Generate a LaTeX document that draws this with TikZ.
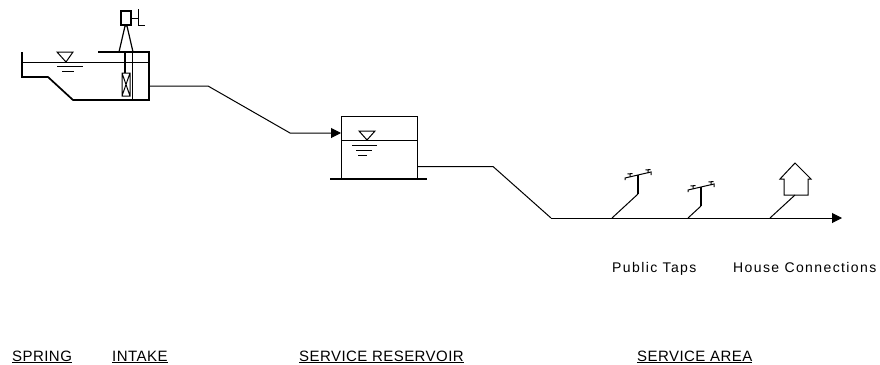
\documentclass[tikz,border=0pt]{standalone}
\usepackage{fontspec}
\setmainfont{Liberation Sans}
\newfontfamily\lowerfont[LetterSpace=10]{Liberation Sans}
\newfontfamily\capsfont[LetterSpace=3]{Liberation Sans}
\usetikzlibrary{arrows.meta}
\tikzset{
  thin line/.style={line width=1pt,line join=miter},
  thick line/.style={line width=1.7pt,line join=miter},
  pipe/.style={line width=1pt,line join=miter},
  note text/.style={anchor=base west,inner sep=0pt,font=\lowerfont\fontsize{14}{16}\selectfont},
  head text/.style={anchor=base west,inner sep=0pt,font=\capsfont\fontsize{15}{17}\selectfont},
  flow/.style={pipe,-{Triangle[length=10pt,width=10pt]}}
}
\begin{document}
\begin{tikzpicture}[x=1pt,y=-1pt]
\useasboundingbox (0,0) rectangle (880,364);
% named points
\coordinate (springOut) at (149,86);
\coordinate (pipeA) at (208,86);
\coordinate (pipeB) at (290,133);
\coordinate (resIn) at (341,133);
\coordinate (resOut) at (417,166.5);
\coordinate (pipeC) at (493,166.5);
\coordinate (mainStart) at (551,218);
\coordinate (mainEnd) at (842,218);
\coordinate (tapA) at (612,218);
\coordinate (tapB) at (688,218);
\coordinate (houseJ) at (770,218);
% spring and intake
\draw[thick line] (22,52) -- (22,77) -- (48,77) -- (73,100) -- (149,100) -- (149,52) -- (98,52);
\draw[thin line] (22,62) -- (149,62);
\draw[thin line] (132,52) -- (132,100);
\draw[thin line] (57,52) -- (73,52) -- (66,62) -- cycle;
\draw[thin line] (57,66) -- (83,66) (62,71) -- (74,71);
\draw[line width=1.3pt] (125,52) -- (125,73);
\draw[thin line] (122,73) rectangle (130,96) (122,73) -- (130,96) (130,73) -- (122,96);
\draw[line width=1.2pt] (119,52) -- (125,26) -- (127,26) -- (133,52);
\draw[line width=1.2pt] (121,11) rectangle (131,25);
\draw[thin line] (131,18) -- (138,18) (138,9) -- (138,26) (138,25) -- (145,25);
% reservoir
\draw[thin line] (341,179) -- (341,116) -- (417,116) -- (417,179);
\draw[line width=1.3pt] (330,179) -- (427,179);
\draw[thin line] (341,140) -- (417,140);
\draw[thin line] (359,131) -- (375,131) -- (367,140) -- cycle;
\draw[thin line] (352,145) -- (377,145) (356,150) -- (372,150) (358,155) -- (367,155);
% pipes
\draw[flow] (springOut) -- (pipeA) -- (pipeB) -- (resIn);
\draw[pipe] (resOut) -- (pipeC) -- (mainStart);
\draw[flow] (mainStart) -- (mainEnd);
% public tap 1
\draw[pipe] (tapA) -- (638,194);
\draw[line width=1.3pt] (638,194) -- (638,175);
\draw[thin line] (625,180) -- (625,178) -- (651,172) -- (651,175);
\draw[thin line] (630,173.5) -- (630,177) (627.5,174) -- (632.5,173.5) (648,169.5) -- (648,173) (645.5,170) -- (650.5,169.5);
% public tap 2
\draw[pipe] (tapB) -- (701,206);
\draw[line width=1.3pt] (701,206) -- (701,187);
\draw[thin line] (688,192) -- (688,190) -- (714,184) -- (714,187);
\draw[thin line] (693,185.5) -- (693,189) (690.5,186) -- (695.5,185.5) (711,181.5) -- (711,185) (708.5,182) -- (713.5,181.5);
% house
\draw[pipe] (houseJ) -- (795,195);
\draw[pipe] (784,195) -- (784,179) -- (780,179) -- (795,163) -- (811,179) -- (808,179) -- (808,195) -- cycle;
% labels
\node[note text] (lblTaps) at (612,272) {Public Taps};
\node[note text] (lblHouse) at (733,272) {House Connections};
\node[head text] (lblSpring) at (12,361) {\underline{SPRING}};
\node[head text] (lblIntake) at (112,361) {\underline{INTAKE}};
\node[head text] (lblRes) at (299,361) {\underline{SERVICE RESERVOIR}};
\node[head text] (lblArea) at (637,361) {\underline{SERVICE AREA}};
\end{tikzpicture}
\end{document}
